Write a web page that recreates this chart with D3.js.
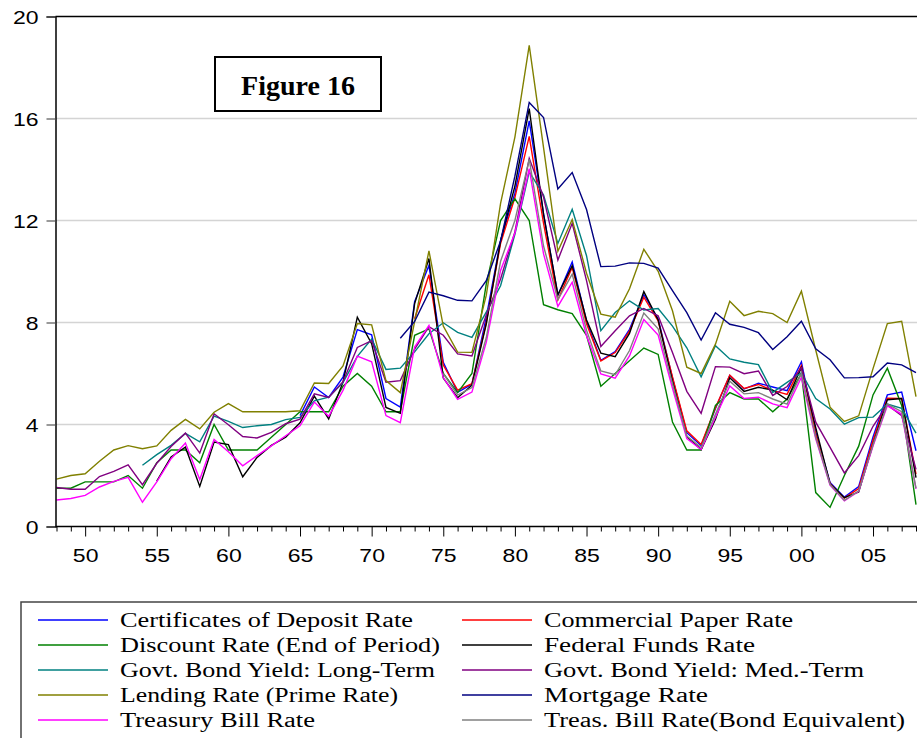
<!DOCTYPE html>
<html>
<head>
<meta charset="utf-8">
<script src="https://cdn.jsdelivr.net/npm/d3@7"></script>
<style>
  html, body { margin: 0; padding: 0; background: #ffffff; }
  svg { display: block; }
</style>
</head>
<body>
<svg id="chart" width="917" height="738"></svg>
<script>
// Annual US interest rates, 1948-2008 (percent per annum)
const firstYear = 1948;
const lastYear = 2008;

const yTicks = [0, 4, 8, 12, 16, 20];
const xMajorYears = [1950, 1955, 1960, 1965, 1970, 1975, 1980, 1985, 1990, 1995, 2000, 2005];
const xMajorLabels = ["50", "55", "60", "65", "70", "75", "80", "85", "90", "95", "00", "05"];

const seriesNames = [
  "Certificates of Deposit Rate",
  "Commercial Paper Rate",
  "Discount Rate (End of Period)",
  "Federal Funds Rate",
  "Govt. Bond Yield: Long-Term",
  "Govt. Bond Yield: Med.-Term",
  "Lending Rate (Prime Rate)",
  "Mortgage Rate",
  "Treasury Bill Rate",
  "Treas. Bill Rate(Bond Equivalent)"
];
const seriesColors = ["#0000ff", "#ff0000", "#008000", "#000000", "#008080",
                      "#800080", "#808000", "#000080", "#ff00ff", "#808080"];

// first year of each series
const seriesStart = [1965, 1973, 1948, 1955, 1954, 1948, 1948, 1972, 1948, 1975];

const cdRate = [4.35, 5.47, 5.06, 5.86, 7.72, 7.52, 5.02, 4.68, 8.82, 10.24, 6.44, 5.26, 5.58, 8.20,
  11.22, 13.07, 15.91, 12.27, 9.07, 10.37, 8.05, 6.52, 6.86, 7.73, 9.09, 8.15, 5.83, 3.68, 3.17,
  4.63, 5.92, 5.39, 5.62, 5.47, 5.33, 6.46, 3.71, 1.73, 1.15, 1.57, 3.51, 5.16, 5.27, 2.97];

const commercialPaper = [8.15, 9.87, 6.33, 5.35, 5.60, 7.99, 11.1, 12.9, 15.3, 11.89, 8.89, 10.16,
  7.95, 6.49, 6.82, 7.66, 8.99, 8.06, 5.87, 3.75, 3.22, 4.66, 5.93, 5.41, 5.57, 5.34, 5.18, 6.31,
  3.61, 1.69, 1.11, 1.49, 3.38, 5.03, 5.02, 2.05];

const discountRate = [1.5, 1.5, 1.75, 1.75, 1.75, 2.0, 1.5, 2.5, 3.0, 3.0, 2.5, 4.0, 3.0, 3.0, 3.0,
  3.5, 4.0, 4.5, 4.5, 4.5, 5.5, 6.0, 5.5, 4.5, 4.5, 7.5, 7.75, 6.0, 5.25, 6.0, 9.5, 12.0, 12.85,
  12.0, 8.7, 8.5, 8.35, 7.5, 5.5, 6.0, 6.5, 7.0, 6.75, 4.1, 3.0, 3.0, 4.75, 5.25, 5.0, 5.0, 4.5,
  5.0, 6.0, 1.33, 0.75, 2.0, 3.15, 5.16, 6.21, 4.75, 0.86];

const fedFunds = [1.78, 2.73, 3.11, 1.57, 3.31, 3.21, 1.95, 2.71, 3.18, 3.50, 4.07, 5.11, 4.22,
  5.66, 8.21, 7.17, 4.67, 4.44, 8.74, 10.51, 5.82, 5.05, 5.54, 7.94, 11.20, 13.35, 16.39, 12.24,
  9.09, 10.23, 8.10, 6.80, 6.66, 7.57, 9.21, 8.10, 5.69, 3.52, 3.02, 4.21, 5.83, 5.30, 5.46, 5.35,
  4.97, 6.24, 3.88, 1.67, 1.13, 1.35, 3.22, 4.97, 5.02, 1.92];

const bondLong = [2.40, 2.82, 3.18, 3.65, 3.32, 4.33, 4.12, 3.88, 3.95, 4.00, 4.19, 4.28, 4.93,
  5.07, 5.64, 6.67, 7.35, 6.16, 6.21, 6.85, 7.56, 7.99, 7.61, 7.42, 8.41, 9.44, 11.46, 13.91,
  13.00, 11.10, 12.44, 10.62, 7.68, 8.39, 8.85, 8.49, 8.55, 7.86, 7.01, 5.87, 7.09, 6.57, 6.44,
  6.35, 5.26, 5.65, 6.03, 5.02, 4.61, 4.01, 4.27, 4.29, 4.80, 4.63, 3.66];

const bondMed = [1.53, 1.46, 1.46, 1.96, 2.16, 2.42, 1.64, 2.48, 3.14, 3.66, 2.88, 4.42, 3.99,
  3.53, 3.47, 3.69, 4.03, 4.21, 5.20, 5.06, 5.68, 7.02, 7.29, 5.66, 5.72, 6.96, 7.84, 7.50, 6.77,
  6.69, 8.29, 9.71, 11.55, 14.44, 12.92, 10.45, 11.89, 9.64, 7.06, 7.68, 8.26, 8.55, 8.26, 6.82,
  5.30, 4.44, 6.27, 6.25, 5.99, 6.10, 5.14, 5.49, 6.22, 4.09, 3.10, 2.10, 2.78, 3.93, 4.77, 4.35,
  2.24];

const primeRate = [1.86, 2.00, 2.07, 2.56, 3.00, 3.17, 3.05, 3.16, 3.77, 4.20, 3.83, 4.48, 4.82,
  4.50, 4.50, 4.50, 4.50, 4.54, 5.63, 5.61, 6.30, 7.96, 7.91, 5.72, 5.25, 8.03, 10.81, 7.86, 6.84,
  6.83, 9.06, 12.67, 15.27, 18.87, 14.86, 10.79, 12.04, 9.93, 8.33, 8.21, 9.32, 10.87, 10.01, 8.46,
  6.25, 6.00, 7.15, 8.83, 8.27, 8.44, 8.35, 8.00, 9.23, 6.92, 4.68, 4.12, 4.34, 6.19, 7.96, 8.05,
  5.09];

const mortgageRate = [7.38, 8.04, 9.19, 9.05, 8.87, 8.85, 9.64, 11.20, 13.74, 16.63, 16.04, 13.24,
  13.88, 12.43, 10.19, 10.21, 10.34, 10.32, 10.13, 9.25, 8.39, 7.31, 8.38, 7.93, 7.81, 7.60, 6.94,
  7.44, 8.05, 6.97, 6.54, 5.83, 5.84, 5.87, 6.41, 6.34, 6.03];

const tBill = [1.04, 1.10, 1.22, 1.55, 1.77, 1.93, 0.95, 1.75, 2.66, 3.27, 1.84, 3.41, 2.93, 2.38,
  2.78, 3.16, 3.56, 3.95, 4.88, 4.32, 5.34, 6.68, 6.46, 4.35, 4.07, 7.04, 7.89, 5.84, 4.99, 5.27,
  7.22, 10.04, 11.51, 14.03, 10.69, 8.63, 9.58, 7.48, 5.98, 5.82, 6.69, 8.12, 7.51, 5.42, 3.45,
  3.02, 4.29, 5.51, 5.02, 5.07, 4.81, 4.66, 5.85, 3.44, 1.62, 1.01, 1.38, 3.16, 4.73, 4.41, 1.48];

const tBillBondEq = [6.0, 5.15, 5.45, 7.4, 10.4, 12.0, 14.4, 11.0, 8.9, 9.9, 7.7, 6.1, 5.95, 6.9,
  8.37, 7.75, 5.6, 3.55, 3.1, 4.4, 5.7, 5.2, 5.25, 5.0, 4.8, 6.0, 3.5, 1.65, 1.03, 1.4, 3.2, 4.8,
  4.5, 1.5];

const seriesValues = [cdRate, commercialPaper, discountRate, fedFunds, bondLong, bondMed,
                      primeRate, mortgageRate, tBill, tBillBondEq];

// ---- layout ----
const svg = d3.select("#chart");
const plot = { left: 55.5, top: 16.5, right: 935, bottom: 526.5 };

const x = d3.scaleLinear().domain([firstYear, lastYear]).range([56.5, 916]);
const y = d3.scaleLinear().domain([0, 20]).range([plot.bottom, plot.top]);

svg.append("rect").attr("width", 917).attr("height", 738).attr("fill", "#ffffff");

// horizontal grid lines
svg.append("g")
  .selectAll("line")
  .data(yTicks.filter(t => t > 0 && t < 20))
  .join("line")
  .attr("x1", plot.left).attr("x2", plot.right)
  .attr("y1", d => y(d)).attr("y2", d => y(d))
  .attr("stroke", "#d4d4d4").attr("stroke-width", 1.5);

// series lines
const years = d3.range(firstYear, lastYear + 1);
const seriesData = seriesValues.map((vals, i) =>
  vals.map((v, k) => ({ year: seriesStart[i] + k, value: v }))
);

const line = d3.line()
  .defined(d => d.value != null)
  .x(d => x(d.year))
  .y(d => y(d.value));

const clip = svg.append("clipPath").attr("id", "plotClip")
  .append("rect")
  .attr("x", plot.left).attr("y", plot.top)
  .attr("width", plot.right - plot.left).attr("height", plot.bottom - plot.top);

svg.append("g")
  .attr("clip-path", "url(#plotClip)")
  .selectAll("path")
  .data(seriesData)
  .join("path")
  .attr("d", d => line(d))
  .attr("fill", "none")
  .attr("stroke", (d, i) => seriesColors[i])
  .attr("stroke-width", 1.4)
  .attr("stroke-linejoin", "miter");

// frame: top and left borders
svg.append("line")
  .attr("x1", plot.left).attr("x2", plot.right)
  .attr("y1", plot.top).attr("y2", plot.top)
  .attr("stroke", "#000").attr("stroke-width", 1.5);

// y axis
const yAxis = d3.axisLeft(y)
  .tickValues(yTicks)
  .tickSize(9)
  .tickPadding(8)
  .tickFormat(d3.format("d"));

const gy = svg.append("g")
  .attr("transform", `translate(${plot.left},0)`)
  .call(yAxis);
gy.select(".domain").attr("stroke", "#000").attr("stroke-width", 1.5);
gy.selectAll(".tick line").attr("stroke", "#555").attr("stroke-width", 1.2);
gy.selectAll(".tick text")
  .attr("font-family", "'Liberation Sans', Arial, sans-serif")
  .attr("font-size", 19)
  .attr("fill", "#000")
  .attr("dy", "0.36em")
  .attr("textLength", d => String(d).length * 12.8)
  .attr("lengthAdjust", "spacingAndGlyphs");

// x axis: minor ticks every year
const xMinor = d3.axisBottom(x)
  .tickValues(years.filter(yr => yr % 5 !== 0))
  .tickSize(5)
  .tickFormat("");
const gxMinor = svg.append("g")
  .attr("transform", `translate(0,${plot.bottom})`)
  .call(xMinor);
gxMinor.select(".domain").remove();
gxMinor.selectAll(".tick line").attr("stroke", "#000").attr("stroke-width", 1);

const xMajor = d3.axisBottom(x)
  .tickValues(xMajorYears)
  .tickSize(10)
  .tickPadding(12)
  .tickFormat((d, i) => xMajorLabels[i]);
const gx = svg.append("g")
  .attr("transform", `translate(0,${plot.bottom})`)
  .call(xMajor);
gx.select(".domain")
  .attr("d", `M${plot.left},0H${plot.right}`)
  .attr("stroke", "#000").attr("stroke-width", 1.5);
gx.selectAll(".tick line").attr("stroke", "#000").attr("stroke-width", 1);
gx.selectAll(".tick text")
  .attr("font-family", "'Liberation Sans', Arial, sans-serif")
  .attr("font-size", 19)
  .attr("fill", "#000")
  .attr("textLength", 25.6)
  .attr("lengthAdjust", "spacingAndGlyphs");

// caption box inside the plot
const capBox = svg.append("g");
capBox.append("rect")
  .attr("x", 215).attr("y", 57)
  .attr("width", 166).attr("height", 54)
  .attr("fill", "#fff").attr("stroke", "#000").attr("stroke-width", 2);
capBox.append("text")
  .attr("x", 298).attr("y", 94.5)
  .attr("text-anchor", "middle")
  .attr("font-family", "'Liberation Serif', 'Times New Roman', serif")
  .attr("font-weight", "bold")
  .attr("font-size", 28)
  .text("Figure 16");

// legend
const legend = svg.append("g");
legend.append("rect")
  .attr("x", 21).attr("y", 602)
  .attr("width", 930).attr("height", 160)
  .attr("fill", "#fff").attr("stroke", "#444").attr("stroke-width", 1.5);

const legendTextWidths = [293, 249, 320, 211, 315, 320, 278, 164, 195, 361];
const legendItems = legend.selectAll("g.item")
  .data(seriesNames)
  .join("g")
  .attr("class", "item")
  .attr("transform", (d, i) => {
    const col = i % 2, row = Math.floor(i / 2);
    return `translate(${col === 0 ? 38 : 462},${620 + row * 25})`;
  });
legendItems.append("line")
  .attr("x1", 0).attr("x2", 70)
  .attr("y1", 0).attr("y2", 0)
  .attr("stroke", (d, i) => seriesColors[i])
  .attr("stroke-width", 1.6);
legendItems.append("text")
  .attr("x", 82).attr("y", 0)
  .attr("dy", "0.33em")
  .attr("font-family", "'Liberation Serif', 'Times New Roman', serif")
  .attr("font-size", 20)
  .attr("fill", "#000")
  .attr("textLength", (d, i) => legendTextWidths[i])
  .attr("lengthAdjust", "spacingAndGlyphs")
  .text(d => d);
</script>
</body>
</html>
